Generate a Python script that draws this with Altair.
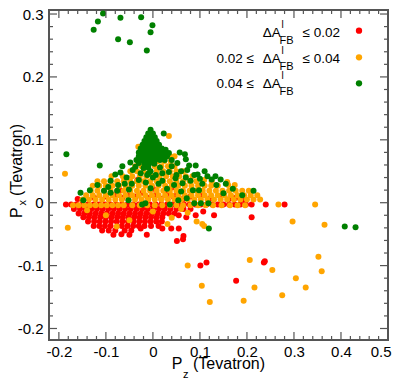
import altair as alt
import pandas as pd

FONT = "Liberation Sans"

# ---------------- data ----------------
red_points = [
    # row near zero
    (-0.185,-0.003),(-0.174,-0.003),(-0.163,-0.003),(-0.150,-0.003),(-0.138,-0.003),(-0.126,-0.003),
    (-0.114,-0.003),(-0.102,-0.003),(-0.090,-0.003),(-0.078,-0.003),(-0.066,-0.003),(-0.054,-0.003),
    (-0.042,-0.003),(-0.030,-0.003),(-0.018,-0.003),(-0.006,-0.003),(0.006,-0.003),(0.018,-0.003),
    (0.030,-0.003),(0.042,-0.003),(0.054,-0.003),(0.066,-0.003),(0.078,-0.003),(0.090,-0.003),
    (0.102,-0.003),(0.114,-0.003),(0.126,-0.003),(0.138,-0.003),(0.150,-0.003),(0.162,-0.003),
    (0.174,-0.003),(0.186,-0.003),(0.198,-0.003),(0.210,-0.003),(0.240,-0.003),(0.280,-0.003),
    # sprinkled above zero
    (-0.160,0.006),(-0.125,0.008),(-0.100,0.010),(-0.082,0.012),(-0.065,0.008),(-0.050,0.014),
    (-0.036,0.010),(-0.022,0.016),(-0.010,0.008),(0.004,0.012),(0.018,0.006),(0.030,0.014),
    (0.044,0.010),(0.052,0.015),(0.064,0.006),(0.080,0.010),(0.105,0.012),(0.120,0.006),
    (0.144,0.010),(0.160,0.005),(0.176,0.008),(0.195,0.004),(-0.033,0.036),(0.000,0.022),
    (-0.070,0.020),(-0.045,0.028),(0.040,0.024),
    # cloud below zero
    (-0.168,-0.010),(-0.155,-0.010),(-0.143,-0.010),(-0.131,-0.010),(-0.119,-0.010),(-0.107,-0.010),
    (-0.095,-0.010),(-0.083,-0.010),(-0.071,-0.010),(-0.059,-0.010),(-0.047,-0.010),(-0.035,-0.010),
    (-0.023,-0.010),(-0.011,-0.010),(0.001,-0.010),(0.013,-0.010),(0.025,-0.010),(0.037,-0.010),
    (0.050,-0.010),(0.065,-0.010),(0.080,-0.010),(0.107,-0.014),
    (-0.158,-0.017),(-0.146,-0.017),(-0.134,-0.017),(-0.122,-0.017),(-0.110,-0.017),(-0.098,-0.017),
    (-0.086,-0.017),(-0.074,-0.017),(-0.062,-0.017),(-0.050,-0.017),(-0.038,-0.017),(-0.026,-0.017),
    (-0.014,-0.017),(-0.002,-0.017),(0.010,-0.017),(0.022,-0.017),(0.034,-0.017),(0.046,-0.017),
    (-0.148,-0.023),(-0.136,-0.023),(-0.124,-0.023),(-0.112,-0.023),(-0.100,-0.023),(-0.088,-0.023),
    (-0.076,-0.023),(-0.064,-0.023),(-0.052,-0.023),(-0.040,-0.023),(-0.028,-0.023),(-0.016,-0.023),
    (-0.004,-0.023),(0.008,-0.023),(0.020,-0.023),(0.055,-0.020),(0.071,-0.023),(0.091,-0.020),
    (0.130,-0.020),(0.210,-0.023),
    (-0.138,-0.030),(-0.125,-0.030),(-0.113,-0.030),(-0.101,-0.030),(-0.089,-0.030),(-0.077,-0.030),
    (-0.065,-0.030),(-0.053,-0.030),(-0.041,-0.030),(-0.029,-0.030),(-0.017,-0.030),(-0.005,-0.030),
    (0.007,-0.030),(0.019,-0.030),
    (-0.126,-0.037),(-0.114,-0.037),(-0.102,-0.037),(-0.090,-0.037),(-0.066,-0.037),(-0.054,-0.037),
    (-0.042,-0.037),(-0.030,-0.037),(-0.018,-0.037),(-0.004,-0.037),(0.012,-0.037),
    (-0.108,-0.044),(-0.094,-0.044),(-0.080,-0.044),(-0.060,-0.044),(-0.046,-0.044),(-0.026,-0.041),
    (0.020,-0.041),(0.039,-0.041),(0.055,-0.041),
    (-0.084,-0.051),(-0.067,-0.050),(-0.050,-0.051),(-0.013,-0.051),(0.065,-0.053),
    (0.064,-0.058),(0.051,-0.061),
    # outliers
    (0.101,-0.100),(0.114,-0.095),(0.177,-0.124),(0.236,-0.095),(0.238,-0.093),
]

orange_points = [
    (-0.170,-0.004),(-0.158,-0.004),(-0.146,-0.004),(-0.134,-0.004),(-0.122,-0.004),(-0.110,-0.004),
    (-0.098,-0.004),(-0.086,-0.004),(-0.074,-0.004),(-0.062,-0.004),(-0.044,-0.004),(-0.028,-0.004),
    (-0.012,-0.004),(0.004,-0.004),(0.020,-0.004),(0.036,-0.004),(0.050,-0.004),(0.064,-0.004),
    (0.080,-0.004),(0.096,-0.004),(0.112,-0.004),(0.128,-0.004),(0.146,-0.004),(0.164,-0.004),
    (0.180,-0.004),(0.196,-0.004),(0.267,-0.003),(0.345,-0.003),
    (-0.150,0.005),(-0.136,0.005),(-0.122,0.005),(-0.108,0.005),(-0.094,0.005),(-0.080,0.005),
    (-0.066,0.005),(-0.052,0.005),(-0.038,0.005),(-0.024,0.005),(-0.010,0.005),(0.004,0.005),
    (0.018,0.005),(0.032,0.005),(0.046,0.005),(0.060,0.005),(0.074,0.005),(0.088,0.005),
    (0.102,0.005),(0.116,0.005),(0.130,0.005),(0.144,0.005),(0.158,0.005),(0.172,0.005),
    (0.186,0.005),(0.200,0.005),(0.214,0.005),(0.228,0.005),
    (-0.142,0.012),(-0.128,0.012),(-0.114,0.012),(-0.100,0.012),(-0.086,0.012),(-0.072,0.012),
    (-0.058,0.012),(-0.044,0.012),(-0.030,0.012),(-0.016,0.012),(-0.002,0.012),(0.012,0.012),
    (0.026,0.012),(0.040,0.012),(0.054,0.012),(0.068,0.012),(0.082,0.012),(0.096,0.012),
    (0.110,0.012),(0.124,0.012),(0.138,0.012),(0.152,0.012),(0.166,0.012),(0.180,0.012),
    (0.194,0.012),(0.208,0.012),(0.222,0.012),
    (-0.132,0.019),(-0.118,0.019),(-0.104,0.019),(-0.090,0.019),(-0.076,0.019),(-0.062,0.019),
    (-0.048,0.019),(-0.034,0.019),(-0.020,0.019),(-0.006,0.019),(0.008,0.019),(0.022,0.019),
    (0.036,0.019),(0.050,0.019),(0.064,0.019),(0.078,0.019),(0.092,0.019),(0.106,0.019),
    (0.120,0.019),(0.134,0.019),(0.148,0.019),(0.162,0.019),(0.176,0.019),(0.190,0.019),
    (0.204,0.019),
    (-0.128,0.027),(-0.114,0.027),(-0.100,0.027),(-0.086,0.027),(-0.072,0.027),(-0.058,0.027),
    (-0.044,0.027),(-0.030,0.027),(-0.016,0.027),(-0.002,0.027),(0.012,0.027),(0.026,0.027),
    (0.040,0.027),(0.054,0.027),(0.068,0.027),(0.082,0.027),(0.096,0.027),(0.110,0.027),
    (0.124,0.027),(0.138,0.027),(0.160,0.028),(0.174,0.028),
    (-0.118,0.034),(-0.104,0.034),(-0.090,0.034),(-0.076,0.034),(-0.062,0.034),(-0.048,0.034),
    (-0.034,0.034),(-0.020,0.034),(-0.006,0.034),(0.008,0.034),(0.022,0.034),(0.036,0.034),
    (0.050,0.034),(0.064,0.034),(0.078,0.034),(0.092,0.034),(0.109,0.036),(0.125,0.034),
    (0.158,0.033),
    (-0.088,0.042),(-0.064,0.042),(-0.044,0.042),(-0.028,0.042),(-0.014,0.042),(0.000,0.042),
    (0.014,0.042),(0.028,0.042),(0.042,0.042),(0.056,0.042),(0.070,0.042),(0.084,0.042),
    (-0.048,0.050),(-0.034,0.050),(-0.020,0.050),(-0.006,0.050),(0.008,0.050),(0.022,0.050),
    (0.036,0.050),(0.050,0.050),(0.064,0.050),
    (-0.038,0.058),(-0.024,0.058),(-0.010,0.058),(0.004,0.058),(0.018,0.058),(0.032,0.058),
    (0.046,0.058),
    (-0.032,0.066),(-0.018,0.066),(-0.004,0.066),(0.010,0.066),(0.024,0.066),(0.038,0.066),
    (-0.026,0.074),(0.022,0.074),(0.036,0.074),(0.046,0.074),
    # below zero sprinkles
    (-0.140,-0.012),(-0.100,-0.020),(-0.050,-0.028),(0.000,-0.014),(0.040,-0.024),(0.060,-0.010),
    (0.074,-0.016),(-0.077,-0.038),(0.031,-0.034),(0.093,-0.030),(0.105,-0.034),(0.109,-0.037),
    # outliers
    (-0.187,0.046),(-0.181,-0.040),(0.034,0.106),(-0.031,0.089),(0.297,-0.030),(0.365,-0.035),
    (0.074,-0.100),(0.104,-0.132),(0.121,-0.158),(0.193,-0.156),(0.206,-0.091),(0.216,-0.135),
    (0.254,-0.107),(0.275,-0.147),(0.304,-0.120),(0.325,-0.135),(0.352,-0.086),(0.359,-0.109),
]

green_points = [
    # top group
    (-0.126,0.275),(-0.117,0.288),(-0.106,0.301),(-0.074,0.260),(-0.069,0.294),(-0.049,0.255),
    (-0.025,0.295),(-0.013,0.242),(-0.005,0.271),(-0.001,0.282),
    # tree
    (-0.005,0.116),
    (-0.010,0.110),(0.000,0.110),
    (-0.014,0.104),(-0.005,0.104),(0.004,0.104),
    (-0.018,0.098),(-0.009,0.098),(0.000,0.098),(0.008,0.098),
    (-0.022,0.092),(-0.013,0.092),(-0.004,0.092),(0.005,0.092),(0.013,0.092),
    (-0.026,0.086),(-0.017,0.086),(-0.008,0.086),(0.001,0.086),(0.010,0.086),(0.019,0.086),(0.027,0.084),
    (-0.030,0.080),(-0.021,0.080),(-0.012,0.080),(-0.003,0.080),(0.006,0.080),(0.015,0.080),(0.024,0.080),(0.034,0.079),
    (-0.030,0.074),(-0.020,0.074),(-0.010,0.074),(0.000,0.074),(0.010,0.074),(0.020,0.074),(0.030,0.074),
    (-0.035,0.068),(-0.025,0.068),(-0.015,0.068),(-0.005,0.068),(0.005,0.068),(0.015,0.068),(0.025,0.068),(0.040,0.068),
    (-0.030,0.063),(-0.018,0.062),(-0.008,0.062),(0.003,0.062),(0.052,0.063),
    (-0.010,0.056),(-0.005,0.050),(-0.012,0.044),(0.000,0.040),
    (0.023,0.110),(0.057,0.080),(0.068,0.077),(0.070,0.069),(0.077,0.059),(0.091,0.059),
    # middle scatter
    (-0.184,0.077),(-0.113,0.059),(-0.048,0.064),(-0.069,0.048),(-0.056,0.040),(-0.043,0.052),
    (-0.037,0.057),(-0.026,0.047),(-0.009,0.047),(0.006,0.044),(0.020,0.047),(0.034,0.049),
    (0.048,0.039),(0.063,0.031),(0.060,0.050),(0.073,0.052),(0.088,0.044),(0.105,0.030),
    (0.116,0.042),(0.125,0.037),(0.133,0.042),(0.144,0.037),(-0.090,0.035),(-0.030,0.036),
    (-0.015,0.032),(0.012,0.030),(-0.060,0.030),
    (0.020,0.035),(0.040,0.058),(0.050,0.044),(0.080,0.035),(0.095,0.045),(0.110,0.050),
    (0.100,0.038),(0.135,0.028),(0.155,0.030),(0.070,0.040),(0.045,0.028),(-0.080,0.045),
    (-0.095,0.025),(-0.065,0.058),(-0.045,0.030),(-0.020,0.055),(0.015,0.056),(-0.118,0.028),
    (-0.154,0.016),(-0.134,0.020),(-0.104,0.019),(-0.090,0.016),(-0.076,0.019),(-0.051,0.021),
    (-0.074,0.028),(-0.005,0.023),(0.085,0.020),(0.098,0.020),(0.030,0.022),(0.060,0.018),
    (0.150,0.015),(0.170,0.022),(0.190,0.012),(0.214,0.019),
    (-0.148,0.004),(-0.052,0.004),(-0.023,-0.003),(-0.016,-0.001),(0.036,-0.003),(0.054,0.004),
    (0.072,0.007),(0.088,-0.001),(0.102,-0.001),(0.118,-0.001),
    (0.119,-0.041),(0.408,-0.038),(0.431,-0.039),
]

x_major = [-0.2, -0.1, 0.0, 0.1, 0.2, 0.3, 0.4, 0.5]
x_minor = [-0.18, -0.16, -0.14, -0.12, -0.08, -0.06, -0.04, -0.02, 0.02, 0.04, 0.06, 0.08,
           0.12, 0.14, 0.16, 0.18, 0.22, 0.24, 0.26, 0.28, 0.32, 0.34, 0.36, 0.38,
           0.42, 0.44, 0.46, 0.48]
y_major = [-0.2, -0.1, 0.0, 0.1, 0.2, 0.3]
y_minor = [-0.18, -0.16, -0.14, -0.12, -0.08, -0.06, -0.04, -0.02, 0.02, 0.04, 0.06, 0.08,
           0.12, 0.14, 0.16, 0.18, 0.22, 0.24, 0.26, 0.28]

X_DOMAIN = [-0.221, 0.5]
Y_DOMAIN = [-0.2183, 0.3064]
W, H = 339, 330
FRAME = "#555555"

xs = alt.Scale(domain=X_DOMAIN, zero=False, nice=False)
ys = alt.Scale(domain=Y_DOMAIN, zero=False, nice=False)

LABEL_EXPR = "datum.value == 0 ? '0' : replace(format(datum.value, '.1f'), '\u2212', '-')"
x_axis = alt.Axis(values=x_major, title=None, grid=False, ticks=False, domain=False, tickSize=0,
                  labelPadding=4, labelFontSize=15, labelFont=FONT, labelColor="#000",
                  labelExpr=LABEL_EXPR, labelFlush=True, labelFlushOffset=3)
y_axis = alt.Axis(values=y_major, title=None, grid=False, ticks=False, domain=False, tickSize=0,
                  labelPadding=6, labelFontSize=15, labelFont=FONT, labelColor="#000",
                  labelExpr=LABEL_EXPR, labelFlush=False)


def points(pts, color):
    df = pd.DataFrame(pts, columns=["pz", "px"])
    return alt.Chart(df).mark_circle(size=36, color=color, opacity=1).encode(
        x=alt.X("pz:Q", scale=xs, axis=x_axis),
        y=alt.Y("px:Q", scale=ys, axis=y_axis),
    )


def xticks(vals, length):
    df = pd.DataFrame({"v": vals})
    base = alt.Chart(df).mark_rule(color=FRAME, strokeWidth=1.2)
    bottom = base.encode(x=alt.X("v:Q", scale=xs, axis=x_axis), y=alt.value(H), y2=alt.value(H - length))
    top = base.encode(x=alt.X("v:Q", scale=xs, axis=x_axis), y=alt.value(0), y2=alt.value(length))
    return [bottom, top]


def yticks(vals, length):
    df = pd.DataFrame({"v": vals})
    base = alt.Chart(df).mark_rule(color=FRAME, strokeWidth=1.2)
    left = base.encode(y=alt.Y("v:Q", scale=ys, axis=y_axis), x=alt.value(0), x2=alt.value(length))
    right = base.encode(y=alt.Y("v:Q", scale=ys, axis=y_axis), x=alt.value(W), x2=alt.value(W - length))
    return [left, right]


def txt(s, x, y, size, align="left", angle=0):
    return alt.Chart(alt.Data(values=[{}])).mark_text(
        text=s, fontSize=size, font=FONT, align=align, baseline="alphabetic",
        angle=angle, color="#000"
    ).encode(x=alt.value(x), y=alt.value(y))


def dot(color, x, y):
    return alt.Chart(alt.Data(values=[{}])).mark_circle(size=40, color=color, opacity=1).encode(
        x=alt.value(x), y=alt.value(y))


layers = [points(red_points, "#ff0000"), points(orange_points, "#ffa500"), points(green_points, "#008000")]
layers += xticks(x_major, 8) + xticks(x_minor, 4) + yticks(y_major, 8) + yticks(y_minor, 4)

# axis titles
layers += [
    txt("P", 122.7, 358.5, 16),
    txt("z", 134, 367.5, 11),
    txt("(Tevatron)", 144, 358.5, 16),
    txt("P", -27, 208, 16, angle=270),
    txt("x", -23, 195.5, 11, angle=270),
    txt("(Tevatron)", -27, 186, 16, angle=270),
]

# legend
rows = [(26.5, None, "\u2264 0.02", "#ff0000", 20.7),
        (52.5, "0.02 \u2264", "\u2264 0.04", "#ffa500", 47.3),
        (78.3, "0.04 \u2264", None, "#008000", 73.3)]
for base_y, head, tail, col, dy in rows:
    if head:
        layers.append(txt(head, 205, base_y, 13.5, align="right"))
    layers.append(txt("\u0394A", 213.7, base_y, 13.5))
    layers.append(txt("l", 232.5, base_y - 9, 10))
    layers.append(txt("FB", 230.5, base_y + 7, 11))
    if tail:
        layers.append(txt(tail, 291, base_y, 13.5, align="right"))
    layers.append(dot(col, 310, dy))

chart = alt.layer(*layers).properties(
    width=W, height=H,
    autosize=alt.AutoSizeParams(type="none"),
    padding={"left": 41, "top": 2, "right": 4, "bottom": 38},
).configure_view(stroke=FRAME, strokeWidth=2)

chart.save("out.html", embed_options={"renderer": "svg", "actions": False})
